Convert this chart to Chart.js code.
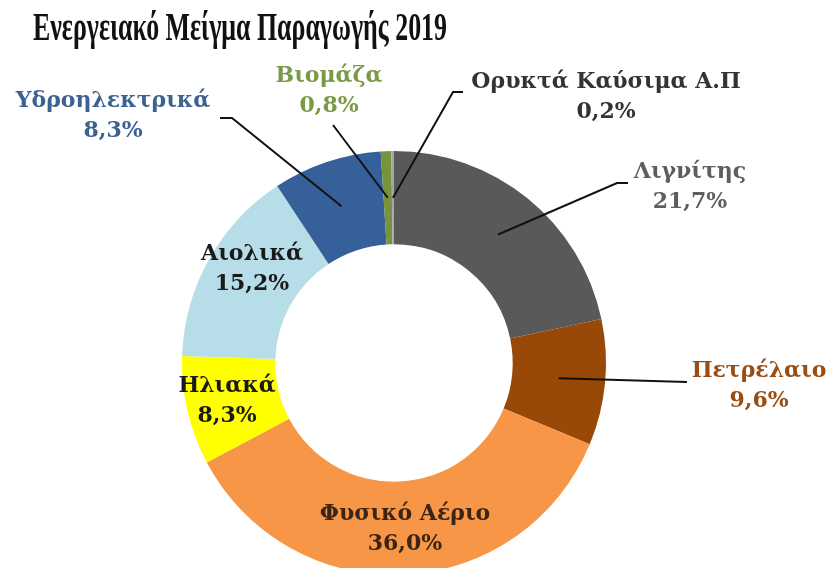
<!DOCTYPE html>
<html>
<head>
<meta charset="utf-8">
<script src="https://cdn.jsdelivr.net/npm/chart.js@4.4.1/dist/chart.umd.min.js"></script>
<style>
  html, body { margin: 0; padding: 0; background: #ffffff; overflow: hidden; }
  #wrap { width: 829px; height: 568px; overflow: hidden; position: relative; }
  canvas { display: block; }
</style>
</head>
<body>
<div id="wrap"><canvas id="c" width="829" height="600"></canvas></div>
<script>
// ---- data ----
const titleText = "Ενεργειακό Μείγμα Παραγωγής 2019";
const categories = ["Λιγνίτης", "Πετρέλαιο", "Φυσικό Αέριο", "Ηλιακά", "Αιολικά", "Υδροηλεκτρικά", "Βιομάζα", "Ορυκτά Καύσιμα Α.Π"];
const shares = [21.7, 9.6, 36.0, 8.3, 15.2, 8.3, 0.8, 0.2];

// ---- styles ----
const sliceColors = ["#595959", "#984807", "#F79646", "#FFFF00", "#B7DEE8", "#36609A", "#77933C", "#A6A3B4"];
const labelColors = ["#5e5e5e", "#9a4c12", "#3b2414", "#1a1a1a", "#1a1a1a", "#3d6292", "#7a9a46", "#333333"];
// label placement (center x, first baseline y) and leader line start points
const labelLayout = [
  { x: 690, y: 178, leader: [[628, 183], [617, 183]] },
  { x: 759, y: 377, leader: [[687, 382]] },
  { x: 405, y: 520, leader: null },
  { x: 227, y: 392, leader: null },
  { x: 252, y: 260, leader: null },
  { x: 113, y: 107, leader: [[220, 118], [232, 118]] },
  { x: 329, y: 82,  leader: [[333, 125]] },
  { x: 606, y: 88,  leader: [[463, 92], [453, 92]] }
];

function fmt(v) { return v.toFixed(1).replace('.', ',') + '%'; }

const labelPlugin = {
  id: 'labelPlugin',
  afterDatasetsDraw(chart) {
    const ctx = chart.ctx;
    const meta = chart.getDatasetMeta(0);
    ctx.save();
    // leader lines
    ctx.strokeStyle = '#111111';
    ctx.lineWidth = 2;
    meta.data.forEach((arc, i) => {
      const L = labelLayout[i];
      if (!L.leader) return;
      const end = arc.tooltipPosition();
      ctx.beginPath();
      ctx.moveTo(L.leader[0][0], L.leader[0][1]);
      for (let k = 1; k < L.leader.length; k++) ctx.lineTo(L.leader[k][0], L.leader[k][1]);
      ctx.lineTo(end.x, end.y);
      ctx.stroke();
    });
    // labels
    ctx.textAlign = 'center';
    ctx.textBaseline = 'alphabetic';
    ctx.font = 'bold 22px "DejaVu Serif"';
    categories.forEach((name, i) => {
      const L = labelLayout[i];
      ctx.fillStyle = labelColors[i];
      ctx.fillText(name, L.x, L.y);
      ctx.fillText(fmt(shares[i]), L.x, L.y + 30);
    });
    // title
    ctx.textAlign = 'left';
    ctx.fillStyle = '#111111';
    ctx.font = 'bold 39px "Liberation Serif"';
    ctx.fillText(titleText, 33, 40, 414);
    ctx.restore();
  }
};

new Chart(document.getElementById('c'), {
  type: 'doughnut',
  data: {
    labels: categories,
    datasets: [{
      data: shares,
      backgroundColor: sliceColors,
      borderWidth: 0
    }]
  },
  options: {
    responsive: false,
    animation: false,
    cutout: '56%',
    layout: { padding: { left: 182, right: 223, top: 151, bottom: 25 } },
    plugins: {
      legend: { display: false },
      tooltip: { enabled: false },
      title: { display: false }
    }
  },
  plugins: [labelPlugin]
});
</script>
</body>
</html>
